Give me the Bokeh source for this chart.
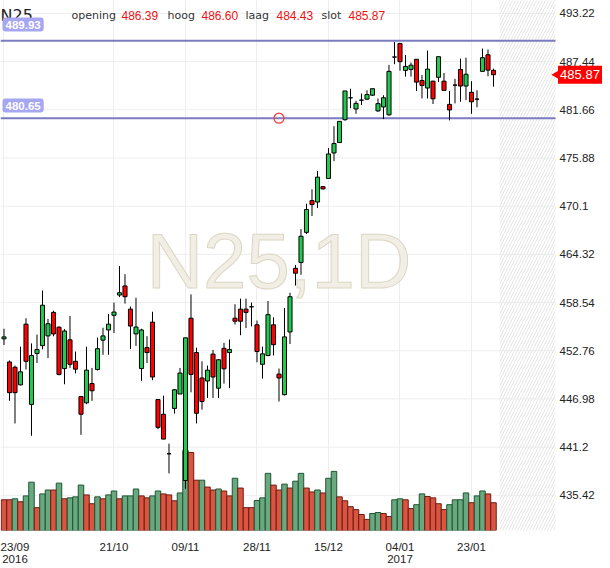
import math
from bokeh.plotting import figure
from bokeh.models import Range1d, FixedTicker, Label, ColumnDataSource
from bokeh.core.properties import value
from bokeh.embed import file_html
from bokeh.resources import INLINE

# ---------------- data ----------------
instrument = "N25"
interval = "1D"

opens = [454.19, 451.41, 450.78, 448.67, 455.95, 446.32, 452.43, 453.37, 454.54, 457.36,
         455.59, 450.62, 454.07, 451.49, 447.26, 446.51, 448.82, 450.51, 454.03, 455.25,
         457.01, 459.44, 460.53, 457.75, 454.78, 450.62, 453.13, 456.19, 446.90, 445.14,
         440.40, 445.84, 447.57, 437.19, 456.66, 452.54, 449.49, 449.13, 452.35, 448.27,
         453.05, 452.54, 456.66, 457.75, 457.75, 458.03, 455.87, 451.13, 452.19, 455.87,
         449.96, 447.49, 455.01, 462.65, 463.35, 466.96, 470.76, 470.60, 472.44, 473.42,
         476.48, 477.73, 480.47, 483.10, 481.76, 482.82, 482.94, 483.41, 481.53, 482.00,
         481.06, 487.99, 489.60, 486.39, 486.50, 487.72, 485.17, 484.27, 485.09, 485.56,
         485.09, 482.31, 484.62, 486.50, 484.51, 483.76, 482.94, 486.27, 488.26, 486.39]

highs = [455.40, 451.60, 450.98, 453.25, 456.66, 453.64, 454.70, 459.99, 456.58, 457.56,
         455.68, 455.36, 456.93, 452.66, 447.30, 453.25, 450.70, 454.34, 455.52, 457.17,
         458.54, 462.92, 461.94, 458.07, 459.12, 455.40, 454.50, 457.44, 446.98, 447.37,
         441.62, 448.16, 450.70, 454.31, 459.52, 453.13, 451.49, 450.98, 452.86, 451.76,
         453.71, 454.11, 458.34, 459.01, 459.01, 458.54, 456.38, 453.25, 458.73, 456.77,
         450.62, 457.87, 459.71, 463.04, 467.35, 470.40, 472.13, 474.32, 472.50, 477.06,
         479.69, 480.30, 483.92, 484.19, 482.74, 483.61, 484.00, 484.19, 483.02, 483.41,
         487.05, 489.79, 489.70, 488.23, 487.33, 487.75, 485.84, 488.77, 485.15, 488.03,
         486.07, 483.92, 485.37, 487.80, 487.91, 485.09, 484.00, 489.01, 488.89, 486.60]

lows = [453.44, 446.75, 444.04, 448.60, 450.51, 442.56, 451.29, 452.93, 451.88, 454.50,
        449.80, 448.74, 450.70, 450.04, 442.67, 446.35, 446.75, 450.39, 452.27, 452.27,
        454.89, 459.20, 458.42, 452.97, 453.33, 449.14, 451.29, 449.22, 443.34, 442.16,
        438.05, 445.22, 447.57, 436.21, 447.77, 444.04, 445.69, 447.10, 447.10, 447.10,
        448.82, 448.27, 455.91, 454.62, 455.48, 455.68, 451.37, 449.41, 452.10, 452.19,
        446.67, 447.40, 453.56, 460.57, 461.87, 466.76, 468.92, 469.89, 472.10, 473.40,
        475.50, 477.70, 480.35, 481.84, 481.18, 482.23, 482.82, 483.33, 481.40, 480.55,
        480.95, 487.13, 486.35, 485.64, 485.64, 483.92, 483.02, 483.02, 482.35, 484.98,
        483.99, 480.39, 482.43, 482.62, 482.82, 481.18, 481.96, 486.27, 485.68, 484.43]

closes = [454.42, 447.73, 447.73, 450.23, 451.49, 452.19, 452.90, 458.22, 455.99, 454.78,
          449.92, 455.13, 451.13, 450.55, 445.14, 450.43, 447.96, 453.01, 454.54, 455.95,
          457.40, 459.71, 459.24, 455.72, 455.60, 455.25, 452.54, 449.61, 443.57, 442.16,
          440.40, 448.08, 450.08, 454.31, 449.92, 445.26, 446.67, 450.43, 449.61, 451.68,
          450.59, 452.90, 456.30, 456.30, 457.36, 458.03, 452.66, 452.39, 457.09, 453.48,
          449.49, 454.42, 459.24, 462.06, 466.49, 469.70, 470.29, 473.58, 472.17, 476.36,
          477.61, 480.27, 483.92, 483.10, 482.43, 482.82, 483.49, 484.19, 482.40, 483.10,
          486.27, 487.99, 487.44, 486.86, 487.01, 484.98, 484.58, 486.54, 482.98, 488.03,
          483.99, 481.65, 484.62, 484.51, 485.92, 482.62, 482.94, 487.91, 486.42, 485.87]

volumes = [94, 94, 97, 88, 106, 148, 70, 112, 124, 124,
           145, 97, 100, 103, 139, 109, 82, 103, 97, 109,
           121, 97, 106, 106, 127, 106, 100, 106, 121, 112,
           109, 91, 115, 245, 239, 154, 154, 133, 124, 127,
           121, 106, 160, 130, 70, 70, 92, 100, 175, 139,
           124, 142, 130, 151, 175, 130, 118, 124, 115, 160,
           181, 103, 91, 73, 64, 49, 34, 52, 55, 52,
           43, 94, 97, 94, 67, 79, 112, 104, 100, 82,
           64, 79, 94, 94, 115, 85, 106, 121, 112, 85]

volume_dir = list("rrgrggrggr" "grgggrrgrg" "grgggrrggr" "rrggrrgrrg" "rrgrr"
                  "rgggr" "rgrggrrgrg" "grrrrrrggr" "rggrrggrrr" "rggggrggrr")

x_tick_index = [0, 20, 33, 46, 59, 72, 85]
x_tick_labels = ["23/09\n2016", "21/10", "09/11", "28/11", "15/12", "04/01\n2017", "23/01"]

y_ticks = [435.42, 441.2, 446.98, 452.76, 458.54, 464.32, 470.1, 475.88, 481.66, 487.44, 493.22]

level_high = 489.93
level_low = 480.65
anchor_index = 50

quote_names = ["opening", "hoog", "laag", "slot"]
quote_values = [486.39, 486.60, 484.43, 485.87]

# ---------------- layout ----------------
FRAME_W = 602
FRAME_H = 530
REF_H = 541            # height of the chart area in the reference, px
PX_X = 5.5             # px per bar
X0 = -0.636
X1 = X0 + FRAME_W / PX_X
PX_Y = 8.51            # reference px per price unit
Y1 = 494.77
Y0 = Y1 - REF_H / PX_Y
VOL_TOP = REF_H * 3
PLOT_RIGHT_PX = 555    # where the price area ends; the price scale sits to the right


def data_x(px):
    return X0 + px / PX_X


def y_at(py):
    return Y1 - py * (Y1 - Y0) / FRAME_H


def fmt_price(v):
    s = f"{v:.2f}"
    return s[:-1] if s.endswith("0") else s


n = len(opens)
idx = list(range(n))
body_top = [max(o, c) for o, c in zip(opens, closes)]
body_bot = [min(o, c) for o, c in zip(opens, closes)]
body_col = ["#22c94f" if c > o else ("#ff0000" if c < o else "#000000") for o, c in zip(opens, closes)]
vol_fill = ["#6aa97f" if d == "g" else "#da5541" for d in volume_dir]
vol_line = ["#1d5431" if d == "g" else "#6d1b11" for d in volume_dir]

src = ColumnDataSource(dict(x=idx, o=opens, h=highs, l=lows, c=closes,
                            top=body_top, bot=body_bot, col=body_col,
                            vol=volumes, vfill=vol_fill, vline=vol_line))

p = figure(frame_width=FRAME_W, frame_height=FRAME_H,
           x_range=Range1d(X0, X1), y_range=Range1d(Y0, Y1),
           y_axis_location=None, output_backend="svg", toolbar_location=None,
           min_border=0, min_border_left=0, min_border_top=0, min_border_right=0,
           min_border_bottom=0)
p.extra_y_ranges = {"vol": Range1d(0, VOL_TOP)}
p.outline_line_color = None
p.background_fill_color = "white"
p.border_fill_color = "white"

# x axis (first label is drawn slightly to the right, clamped to the edge as in the source)
label_ticks = list(x_tick_index)
label_ticks[0] = 2.0
p.xaxis.ticker = FixedTicker(ticks=label_ticks)
p.xaxis.major_label_overrides = {t: lab for t, lab in zip(label_ticks, x_tick_labels)}
p.xaxis.axis_line_color = None
p.xaxis.major_tick_line_color = None
p.xaxis.minor_tick_line_color = None
p.xaxis.major_label_standoff = 4
p.xaxis.major_label_text_font = "Liberation Sans"
p.xaxis.major_label_text_font_size = "11.5px"
p.xaxis.major_label_text_line_height = 1.0
p.xaxis.major_label_text_color = "#222222"

p.xgrid.ticker = FixedTicker(ticks=x_tick_index)
p.xgrid.grid_line_color = "#eeeeee"
p.ygrid.visible = False

x_right = data_x(PLOT_RIGHT_PX)

# horizontal grid of the price area
p.segment(x0=[X0] * len(y_ticks), x1=[x_right] * len(y_ticks), y0=y_ticks, y1=y_ticks,
          line_color="#eeeeee", line_width=1)

# watermark
p.text(x=[anchor_index], y=[463.5], text=[f"{instrument},{interval}"],
       text_font=value("Liberation Sans"), text_font_size="78px",
       text_color="#f1eee5", text_align="center", text_baseline="middle",
       text_outline_color="#ddd6c3")

# hatched future area
p.quad(left=[n + 0.1], right=[x_right], bottom=[Y0 - 10], top=[Y1 + 10],
       fill_color=None, line_color=None, hatch_pattern="/", hatch_color="#e6e6e6",
       hatch_scale=6, hatch_weight=1)

# volume
p.vbar(x="x", top="vol", bottom=0, width=1.0, source=src, y_range_name="vol",
       fill_color="vfill", line_color="vline", line_width=1)

# level lines
p.segment(x0=[X0, X0], x1=[x_right, x_right], y0=[level_high, level_low],
          y1=[level_high, level_low], line_color="#7b7bc1", line_width=2)

# candles
p.segment(x0="x", y0="l", x1="x", y1="h", source=src, line_color="black", line_width=1)
p.vbar(x="x", top="top", bottom="bot", width=0.74, source=src,
       fill_color="col", line_color="black", line_width=1)

# anchor of the drawn line
p.scatter(x=[anchor_index], y=[level_low], size=10, marker="circle",
          fill_color="white", fill_alpha=0.0, line_color="#ff3b3b", line_width=1.3)

# price scale on the right
p.text(x=[data_x(559)] * len(y_ticks), y=y_ticks, text=[fmt_price(v) for v in y_ticks],
       text_font=value("Liberation Sans"), text_font_size="11.5px", text_color="#222222",
       text_align="left", text_baseline="middle")

# last price tag
last = quote_values[-1]
p.scatter(x=[data_x(555.5)], y=[last], marker="triangle", angle=math.pi / 2, size=8,
          fill_color="#ff0000", line_color=None)
p.rect(x=[data_x(579.5)], y=[last], width=44, height=18, width_units="screen",
       height_units="screen", fill_color="#ff0000", line_color=None)
p.text(x=[data_x(579.5)], y=[last], text=[f"{last:.2f}"], text_font=value("Liberation Sans"),
       text_font_size="13px", text_color="white", text_align="center", text_baseline="middle")

# header
p.add_layout(Label(x=data_x(0), y=y_at(15), text=instrument, text_font="DejaVu Sans",
                   text_font_size="16px", text_color="#222222", text_baseline="alphabetic"))
name_px = [71, 167, 245, 321]
val_px = [121, 201, 276, 348]
for nm, v, npx, vpx in zip(quote_names, quote_values, name_px, val_px):
    p.add_layout(Label(x=data_x(npx), y=y_at(15), text=nm, text_font="DejaVu Sans",
                       text_font_size="11px", text_color="#333333", text_baseline="alphabetic"))
    p.add_layout(Label(x=data_x(vpx), y=y_at(15), text=f"{v:.2f}", text_font="Liberation Sans",
                       text_font_size="12px", text_color="#ee1111", text_baseline="alphabetic"))

# level tags on the left
for lv, py in [(level_high, 24), (level_low, 105)]:
    p.add_layout(Label(x=data_x(2), y=y_at(py), text=f"{lv:.2f}", text_font="Liberation Sans",
                       text_font_size="11.5px", text_font_style="bold", text_color="white",
                       text_baseline="middle", background_fill_color="#a6a6f2",
                       padding=3, border_radius=3))

open("out.html", "w").write(file_html(p, INLINE))
